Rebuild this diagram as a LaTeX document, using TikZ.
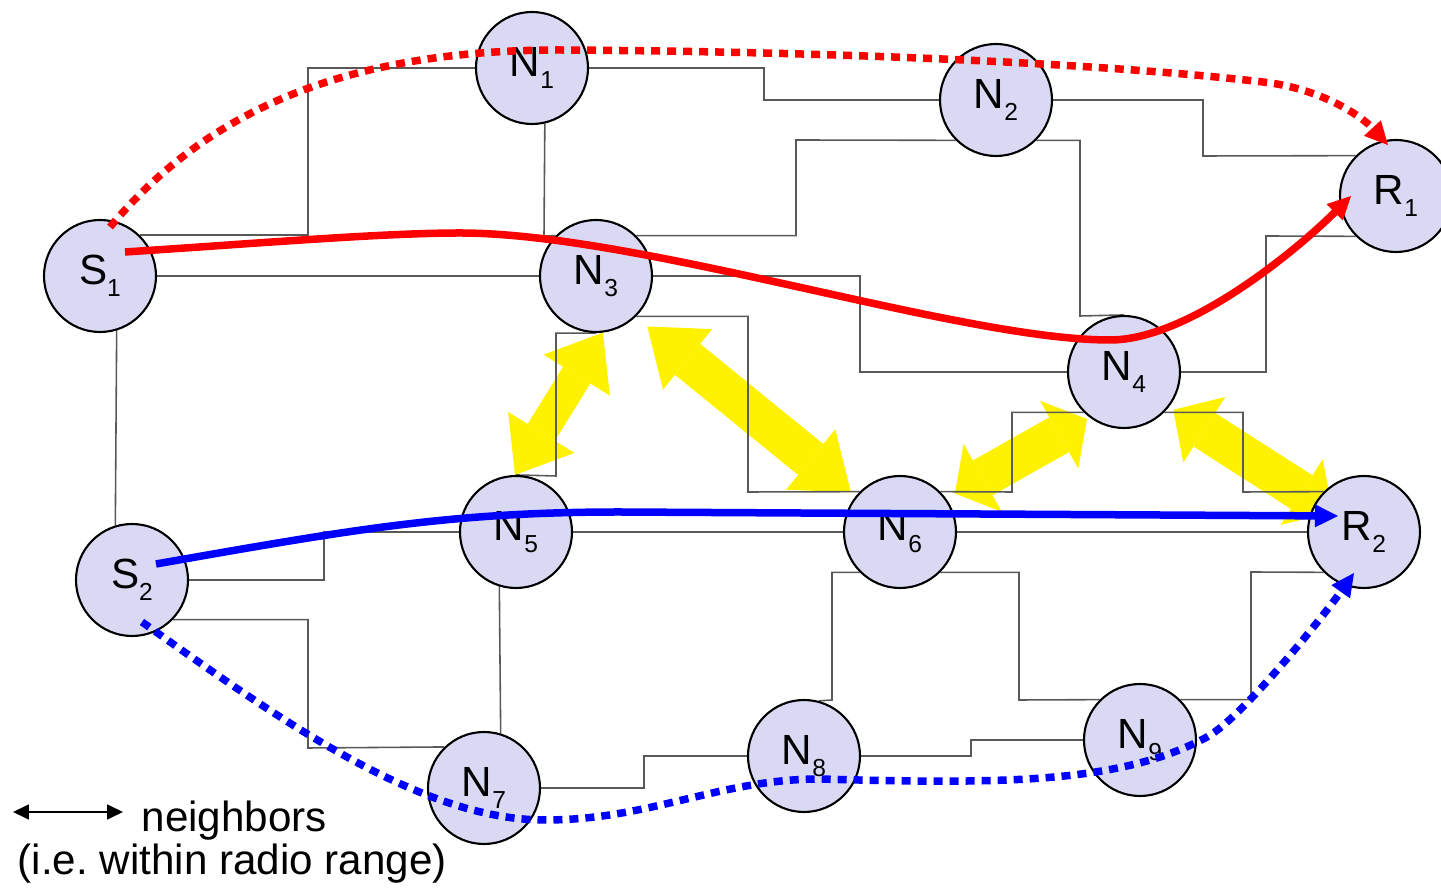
\documentclass[tikz,border=0pt]{standalone}
\usepackage{fontspec}
\setmainfont{Liberation Sans}
\usetikzlibrary{arrows.meta,backgrounds}
\definecolor{nodefill}{RGB}{217,217,243}
\newcommand{\idx}[1]{\raisebox{-3.4pt}{\fontsize{7}{7}\selectfont #1}}
\frenchspacing

\begin{document}
\begin{tikzpicture}[x=0.1mm, y=-0.1mm, font=\fontsize{12}{14}\selectfont,
  station/.style={circle, draw=black, line width=0.6pt, fill=nodefill, minimum size=11.2mm, inner sep=0pt},
  link/.style={draw=black!65, line width=0.45pt},
  nbr/.style 2 args={draw=yellow, line width=#1, >={Triangle[length=#2,width=7.8mm,line width=0pt]}, <->},
  route/.style={draw=#1, line width=0.75mm, -{Triangle[length=2.3mm,width=2.3mm,line width=0pt]}},
  alt/.style={route=#1, dash pattern=on 0.9mm off 0.7mm},
  keyarrow/.style={line width=0.5pt, {Triangle[length=1.6mm,width=1.5mm]}-{Triangle[length=1.6mm,width=1.5mm]}}]
\useasboundingbox (0,0) rectangle (1441,889);

\node (N1) [station] at (532,68) {N\idx{1}};
\node (N2) [station] at (996,100) {N\idx{2}};
\node (R1) [station] at (1396,196) {R\idx{1}};
\node (S1) [station] at (100,276) {S\idx{1}};
\node (N3) [station] at (596,276) {N\idx{3}};
\node (N4) [station] at (1124,372) {N\idx{4}};
\node (N5) [station] at (516,532) {N\idx{5}};
\node (N6) [station] at (900,532) {N\idx{6}};
\node (R2) [station] at (1364,532) {R\idx{2}};
\node (S2) [station] at (132,580) {S\idx{2}};
\node (N7) [station] at (484,788) {N\idx{7}};
\node (N8) [station] at (804,756) {N\idx{8}};
\node (N9) [station] at (1140,740) {N\idx{9}};

\begin{scope}[on background layer]
\draw[nbr={3.2mm}{5mm}] (N5.91) -- (N3.-83);
\draw[nbr={4mm}{5.2mm}, shorten <=1.5mm, shorten >=0.6mm] (N3.-46) -- (N6.141);
\draw[nbr={4mm}{3.2mm}, shorten <=1mm, shorten >=0.3mm] (N6.36) -- (N4.233);
\draw[nbr={4mm}{3.7mm}, shorten <=0.5mm, shorten >=3.7mm] (N4.-38) -- (R2.center);

\draw[link] (S1.46) -| (308,68) -- (N1); \draw[link] (S1) -- (N3); \draw[link] (S1.-73) -- (S2.107);
\draw[link] (S2.east) -| (324,532) -- (N5); \draw[link] (S2.-44) -| (308,748) -- (N7.134);
\draw[link] (N1.east) -| (764,100) -- (N2); \draw[link] (N1.-77) -- (544,236) -- (N3.135);
\draw[link] (N3.45) -| (796,140) -- (N2.225); \draw[link] (N3.east) -| (860,372) -- (N4);
\draw[link] (N3.south) -| (556,476) -- (N5.north); \draw[link] (N3.-45) -| (748,492) -- (N6.135);
\draw[link] (N2.-45) -| (1080,316) -- (N4.north); \draw[link] (N2.east) -| (1203,156) -- (R1.135);
\draw[link] (N4.east) -| (1266,236) -- (R1.225);
\draw[link] (N4.-135) -| (1012,492) -- (N6.45); \draw[link] (N4.-45) -| (1243,492) -- (R2.135);
\draw[link] (N5) -- (N6); \draw[link] (N6) -- (R2); \draw[link] (N5.-107) -- (N7.73);
\draw[link] (N6.-135) -| (832,700) -- (N8.75); \draw[link] (N6.-45) -| (1019,700) -- (N9.135);
\draw[link] (N7.east) -| (644,756) -- (N8); \draw[link] (N8.east) -| (971,740) -- (N9);
\draw[link] (N9.45) -| (1251,572) -- (R2.-135);
\end{scope}

\draw[route=red] ([shift={(25,-24)}]S1.center) .. controls (250,244) and (380,233) .. (460,233)
  .. controls (640,233) and (960,340) .. (1110,340) .. controls (1190,340) and (1300,247) .. ([shift={(-45,0)}]R1.center);
\draw[alt=red] ([shift={(10,-49)}]S1.center) .. controls (200,120) and (330,50) .. (560,50)
  .. controls (900,52) and (1150,68) .. (1271,83) .. controls (1330,92) and (1365,120) .. ([shift={(-8,-51)}]R1.center);
\draw[route=blue] ([shift={(24,-16)}]S2.center) .. controls (350,530) and (450,512) .. (620,512) -- ([shift={(-26,-16)}]R2.center);
\draw[alt=blue] ([shift={(10,42)}]S2.center) .. controls (280,720) and (420,820) .. (545,820)
  .. controls (650,820) and (720,779) .. (820,779) .. controls (1000,784) and (1120,784) .. (1207,737)
  .. controls (1242,718) and (1325,614) .. ([shift={(-10,41)}]R2.center);

\coordinate (kl) at (13,812);
\coordinate (kr) at (123,812);
\draw[keyarrow] (kl) -- (kr);
\node (nb) [anchor=base west, inner sep=0pt] at (141,832) {neighbors};
\node (rr) [anchor=base west, inner sep=0pt] at (17,875) {(i.e. within radio range)};

\end{tikzpicture}
\end{document}
